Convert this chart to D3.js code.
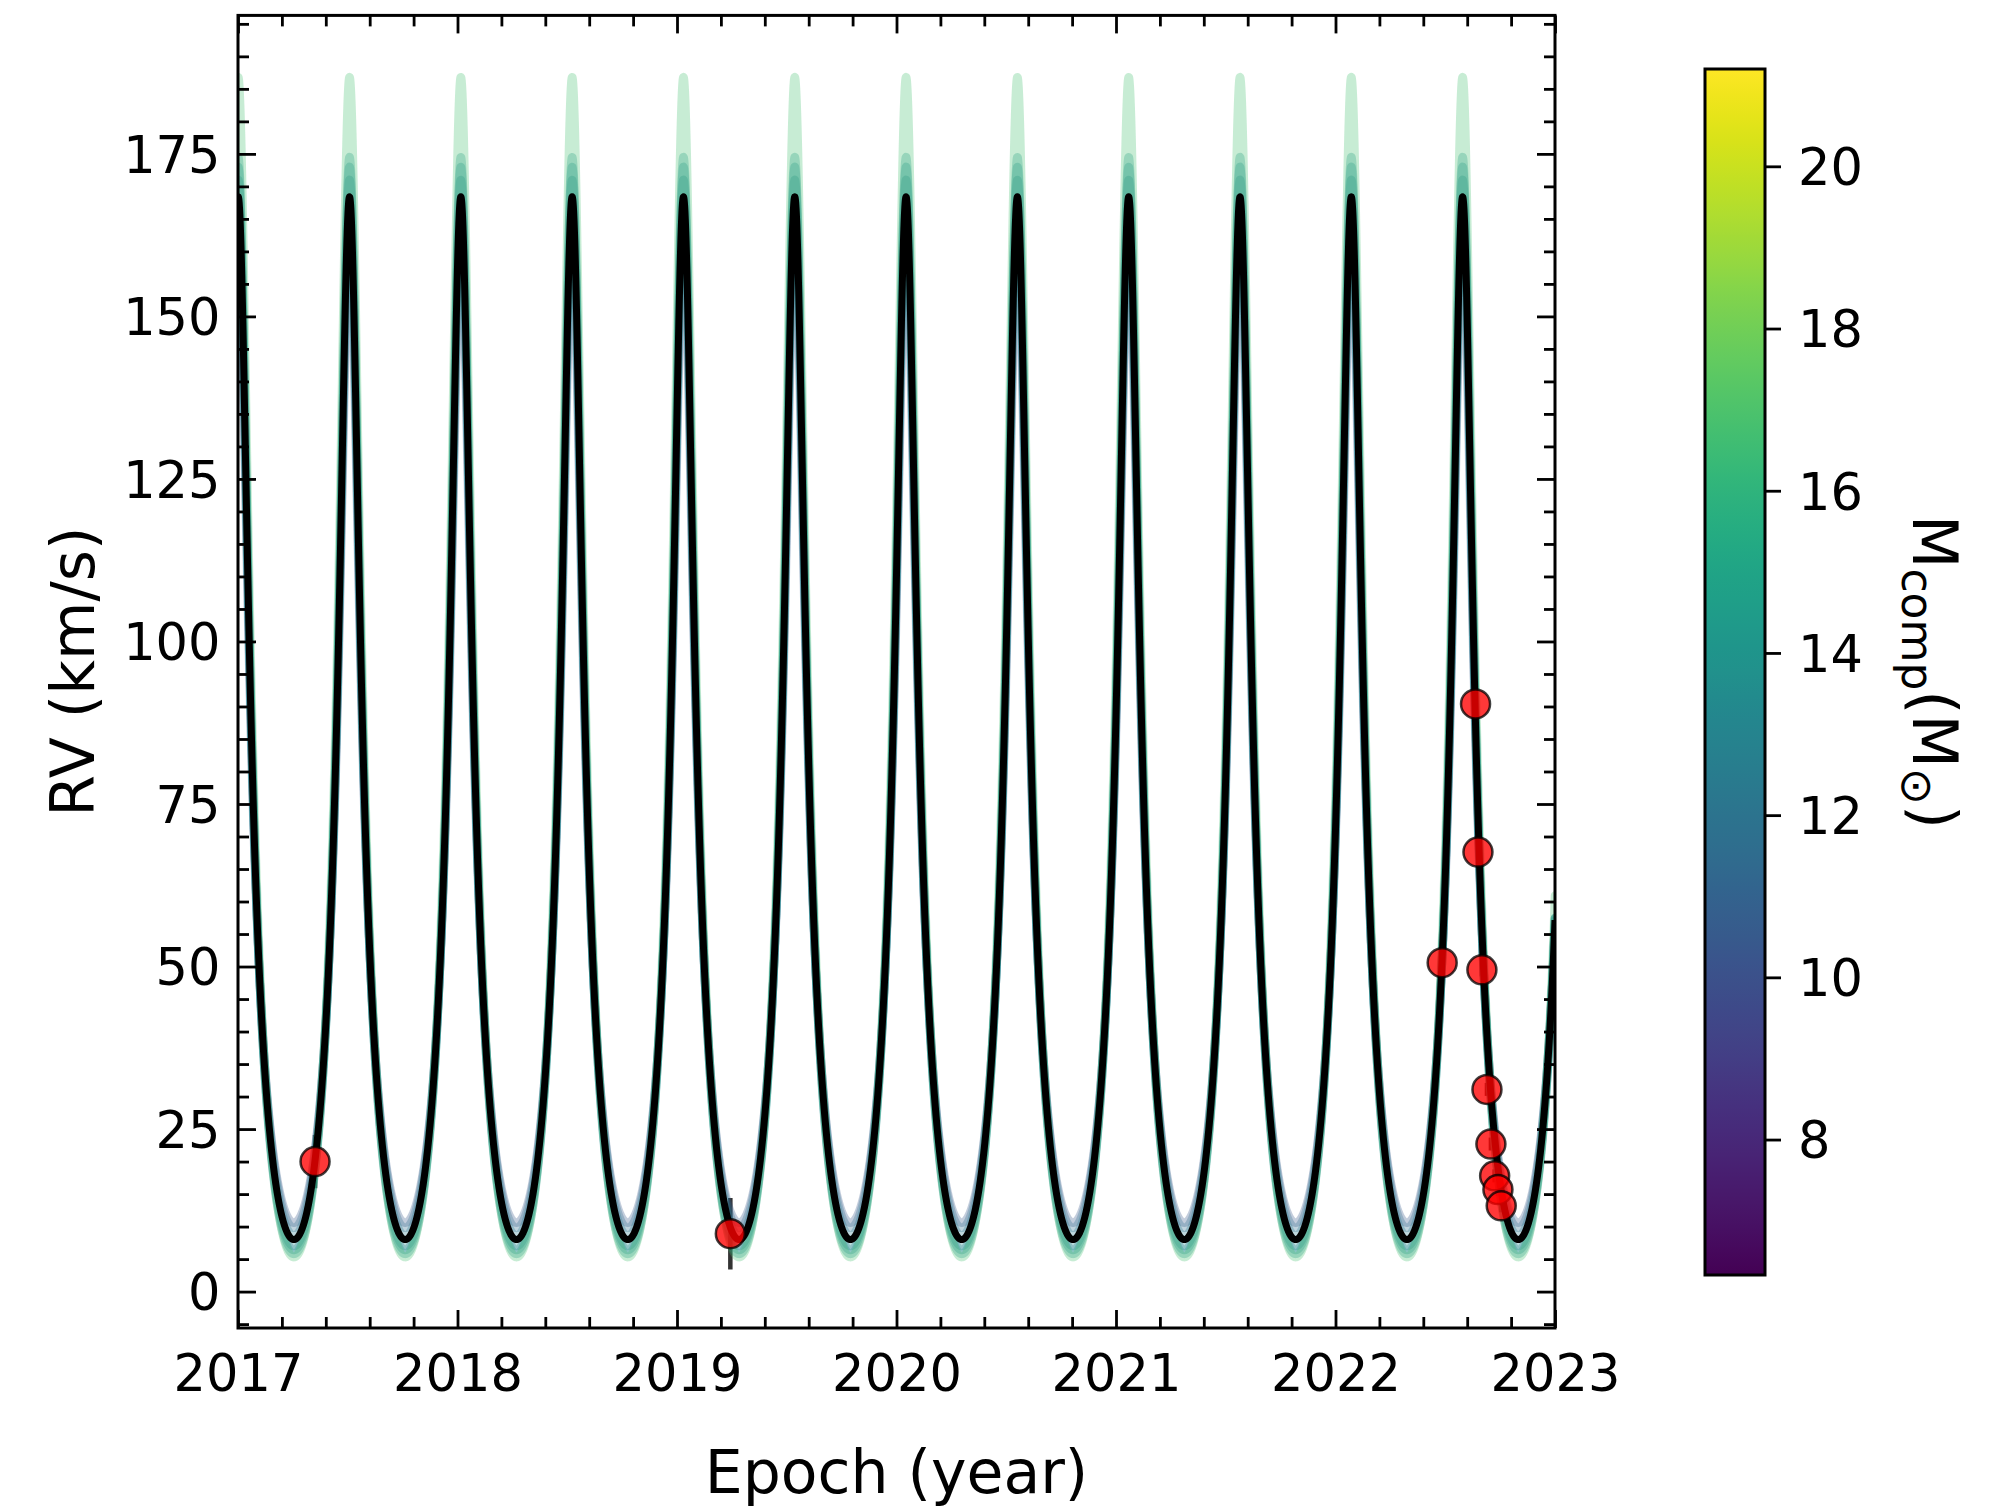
<!DOCTYPE html>
<html>
<head>
<meta charset="utf-8">
<script src="https://cdn.jsdelivr.net/npm/d3@7/dist/d3.min.js"></script>
<style>
  body { margin: 0; background: #fff; }
  svg text { font-family: "DejaVu Sans", sans-serif; fill: #000; }
</style>
</head>
<body>
<div id="chart"></div>
<script>
// observed radial velocities
const obsEpoch = [2017.351, 2019.243, 2022.486, 2022.638, 2022.649, 2022.667, 2022.690, 2022.708, 2022.725, 2022.740, 2022.755];
const obsRV    = [20.0, 8.9, 50.6, 90.4, 67.6, 49.5, 31.1, 22.7, 17.8, 15.7, 13.2];
const obsErr   = [4.1, 5.5, 1.0, 1.0, 1.0, 1.0, 1.0, 1.0, 1.0, 1.0, 1.0];

const orbitPeriod = 0.5071;   // yr
const orbitTperi = 2017.001;  // epoch of RV maximum
const orbitEcc = 0.44;

// sampled models, coloured by companion mass
const modelMass  = [10.5, 11.5, 12.5, 13.0, 13.5, 14.0, 16.8];
const modelRVmin = [10.6, 9.8, 8.6, 7.0, 6.4, 5.8, 5.3];
const modelRVmax = [160, 164, 168, 171, 173, 174.5, 186.8];

// best fit
const bestRVmin = 8.0;
const bestRVmax = 168.4;

// axes
const xTicks = [2017, 2018, 2019, 2020, 2021, 2022, 2023];
const yTicks = [0, 25, 50, 75, 100, 125, 150, 175];
const cbarTicks = [8, 10, 12, 14, 16, 18, 20];
const xDomain = [2017, 2023];
const yDomain = [-5.6, 196.3];
const massDomain = [6.33, 21.2];

const width = 2010, height = 1510;
const plot = {left: 238, right: 1555, top: 15.4, bottom: 1328};
const cbar = {left: 1705, right: 1765, top: 69, bottom: 1275};

const x = d3.scaleLinear().domain(xDomain).range([plot.left, plot.right]);
const y = d3.scaleLinear().domain(yDomain).range([plot.bottom, plot.top]);
const cScale = d3.scaleLinear().domain(massDomain).range([cbar.bottom, cbar.top]);
const massColor = m => d3.interpolateViridis((m - massDomain[0]) / (massDomain[1] - massDomain[0]));

// Keplerian RV curve, parameterised by its min / max
function rvAt(t, vMin, vMax) {
    const e = orbitEcc;
    const K = (vMax - vMin) / 2;
    let ph = ((t - orbitTperi) / orbitPeriod) % 1;
    if (ph < 0) ph += 1;
    const M = 2 * Math.PI * ph;
    let E = M + e * Math.sin(M);
    for (let i = 0; i < 40; i++) {
        E = E - (E - e * Math.sin(E) - M) / (1 - e * Math.cos(E));
    }
    const nu = 2 * Math.atan2(Math.sqrt(1 + e) * Math.sin(E / 2), Math.sqrt(1 - e) * Math.cos(E / 2));
    return vMin + K * (1 + Math.cos(nu));
}

const times = d3.range(xDomain[0], xDomain[1] + 0.00025, 0.0005);

const svg = d3.select('#chart').append('svg')
    .attr('width', width)
    .attr('height', height)
    .attr('viewBox', [0, 0, width, height]);

svg.append('defs').append('clipPath')
    .attr('id', 'clip')
    .append('rect')
    .attr('x', plot.left).attr('y', plot.top)
    .attr('width', plot.right - plot.left)
    .attr('height', plot.bottom - plot.top);

const line = d3.line().x(d => x(d[0])).y(d => y(d[1]));

const g = svg.append('g').attr('clip-path', 'url(#clip)');

// error bars sit under the curves
g.append('g')
    .selectAll('line')
    .data(obsEpoch.map((t, i) => ({t, v: obsRV[i], err: obsErr[i]})))
    .join('line')
    .attr('x1', d => x(d.t)).attr('x2', d => x(d.t))
    .attr('y1', d => y(d.v - d.err)).attr('y2', d => y(d.v + d.err))
    .attr('stroke', '#333')
    .attr('stroke-width', 4.5);

// model ensemble
g.append('g')
    .selectAll('path')
    .data(modelMass.map((m, i) => ({m, vMin: modelRVmin[i], vMax: modelRVmax[i]})))
    .join('path')
    .attr('d', d => line(times.map(t => [t, rvAt(t, d.vMin, d.vMax)])))
    .attr('fill', 'none')
    .attr('stroke', d => massColor(d.m))
    .attr('stroke-opacity', 0.3)
    .attr('stroke-width', 8.5)
    .attr('stroke-linejoin', 'round')
    .attr('stroke-linecap', 'round');

// best-fit orbit
g.append('path')
    .attr('d', line(times.map(t => [t, rvAt(t, bestRVmin, bestRVmax)])))
    .attr('fill', 'none')
    .attr('stroke', '#000')
    .attr('stroke-width', 7)
    .attr('stroke-linejoin', 'round');

// observations
g.append('g')
    .selectAll('circle')
    .data(obsEpoch.map((t, i) => ({t, v: obsRV[i]})))
    .join('circle')
    .attr('cx', d => x(d.t))
    .attr('cy', d => y(d.v))
    .attr('r', 14.5)
    .attr('fill', '#ff0000')
    .attr('fill-opacity', 0.78)
    .attr('stroke', '#000')
    .attr('stroke-opacity', 0.75)
    .attr('stroke-width', 2.5);

// axes with inward ticks on all four sides
const tickFont = 51;
const xMinor = d3.range(2017, 2023.001, 0.2).filter(v => Math.abs(v - Math.round(v)) > 1e-6);
const yMinor = d3.range(-5, 196.5, 5).filter(v => v % 25 !== 0);

function styleAxis(sel) {
    sel.select('.domain').remove();
    sel.selectAll('.tick line').attr('stroke', '#000').attr('stroke-width', 2.8);
    sel.selectAll('text').style('font-size', tickFont + 'px').attr('font-family', null);
}

svg.append('g')
    .attr('transform', `translate(0,${plot.bottom})`)
    .call(d3.axisBottom(x).tickValues(xTicks).tickFormat(d3.format('d')).tickSize(-18))
    .call(styleAxis)
    .call(a => a.selectAll('text').attr('y', 63).attr('dy', null));
svg.append('g')
    .attr('transform', `translate(0,${plot.bottom})`)
    .call(d3.axisBottom(x).tickValues(xMinor).tickFormat('').tickSize(-11))
    .call(styleAxis);
svg.append('g')
    .attr('transform', `translate(0,${plot.top})`)
    .call(d3.axisTop(x).tickValues(xTicks).tickFormat('').tickSize(-18))
    .call(styleAxis);
svg.append('g')
    .attr('transform', `translate(0,${plot.top})`)
    .call(d3.axisTop(x).tickValues(xMinor).tickFormat('').tickSize(-11))
    .call(styleAxis);

svg.append('g')
    .attr('transform', `translate(${plot.left},0)`)
    .call(d3.axisLeft(y).tickValues(yTicks).tickSize(-18).tickPadding(17.5))
    .call(styleAxis)
    .call(a => a.selectAll('text').attr('dy', '0.36em'));
svg.append('g')
    .attr('transform', `translate(${plot.left},0)`)
    .call(d3.axisLeft(y).tickValues(yMinor).tickFormat('').tickSize(-11))
    .call(styleAxis);
svg.append('g')
    .attr('transform', `translate(${plot.right},0)`)
    .call(d3.axisRight(y).tickValues(yTicks).tickFormat('').tickSize(-18))
    .call(styleAxis);
svg.append('g')
    .attr('transform', `translate(${plot.right},0)`)
    .call(d3.axisRight(y).tickValues(yMinor).tickFormat('').tickSize(-11))
    .call(styleAxis);

svg.append('rect')
    .attr('x', plot.left).attr('y', plot.top)
    .attr('width', plot.right - plot.left)
    .attr('height', plot.bottom - plot.top)
    .attr('fill', 'none')
    .attr('stroke', '#000')
    .attr('stroke-width', 3);

// axis titles
svg.append('text')
    .attr('x', (plot.left + plot.right) / 2)
    .attr('y', 1493)
    .attr('text-anchor', 'middle')
    .style('font-size', '60px')
    .text('Epoch (year)');

svg.append('text')
    .attr('transform', `translate(94,${(plot.top + plot.bottom) / 2}) rotate(-90)`)
    .attr('text-anchor', 'middle')
    .style('font-size', '60px')
    .text('RV (km/s)');

// colour bar
const grad = svg.select('defs').append('linearGradient')
    .attr('id', 'viridis')
    .attr('x1', 0).attr('y1', 1).attr('x2', 0).attr('y2', 0);
d3.range(0, 1.0001, 0.02).forEach(t => {
    grad.append('stop')
        .attr('offset', t)
        .attr('stop-color', d3.interpolateViridis(t));
});

svg.append('rect')
    .attr('x', cbar.left).attr('y', cbar.top)
    .attr('width', cbar.right - cbar.left)
    .attr('height', cbar.bottom - cbar.top)
    .attr('fill', 'url(#viridis)')
    .attr('stroke', '#000')
    .attr('stroke-width', 3);

svg.append('g')
    .attr('transform', `translate(${cbar.right},0)`)
    .call(d3.axisRight(cScale).tickValues(cbarTicks).tickSize(16).tickPadding(17))
    .call(styleAxis)
    .call(a => a.selectAll('text').attr('dy', '0.36em'));

const cbLabel = svg.append('text')
    .attr('transform', `translate(1913,${(cbar.top + cbar.bottom) / 2}) rotate(90)`)
    .attr('text-anchor', 'middle')
    .style('font-size', '62px');
cbLabel.append('tspan').text('M');
cbLabel.append('tspan').attr('dy', 11).style('font-size', '44px').text('comp');
cbLabel.append('tspan').attr('dy', -11).text('(M');
cbLabel.append('tspan').attr('dy', 11).style('font-size', '44px').text('⊙');
cbLabel.append('tspan').attr('dy', -11).text(')');
</script>
</body>
</html>
